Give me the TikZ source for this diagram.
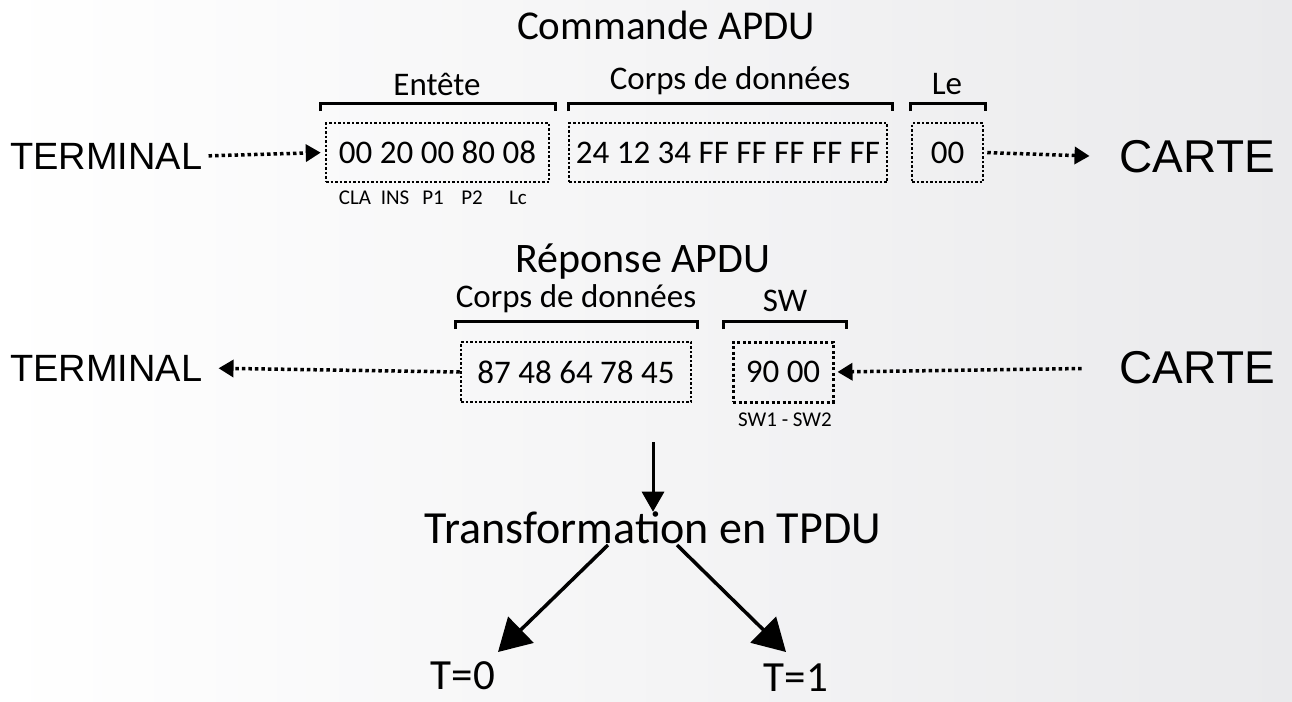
\documentclass[tikz,border=0pt]{standalone}
\usepackage{fontspec}
\setmainfont{Carlito}
\newfontfamily\arialfont{Liberation Sans}
\usetikzlibrary{arrows.meta}
\definecolor{bgright}{RGB}{234,234,236}
\begin{document}
\begin{tikzpicture}[x=1pt,y=-1pt,
  title/.style={font=\fontsize{41}{48}\selectfont, inner sep=0pt},
  lbl/.style={font=\fontsize{33}{38}\selectfont, inner sep=0pt},
  field/.style={font=\fontsize{21}{25}\selectfont, inner sep=0pt},
  party/.style={font=\arialfont\fontsize{38}{44}\selectfont, inner sep=0pt},
  bigparty/.style={font=\arialfont\fontsize{46}{52}\selectfont, inner sep=0pt},
  bytes/.style={draw, line width=2.5pt, dash pattern=on 2.5pt off 2pt,
    font=\fontsize{33}{38}\selectfont, minimum height=59pt, inner sep=0pt},
  brace/.style={line width=3pt},
  flow/.style={line width=3.5pt, dash pattern=on 3.5pt off 3pt,
    -{Triangle[length=15pt,width=17pt]}},
  down/.style={line width=3pt, -{Triangle[length=20pt,width=22pt]}},
  split/.style={line width=3.5pt, -{Triangle[length=32pt,width=36pt]}}]

% background
\shade[left color=white, right color=bgright] (0,0) rectangle (1292,701);

% ---------------- command ----------------
\node[title] (cmd) at (666,25) {Commande APDU};

\node[bytes, minimum width=223pt] (hdr) at (437.5,152.5) {00 20 00 80 08};
\node[bytes, minimum width=318pt] (body) at (728,152.5) {24 12 34 FF FF FF FF FF};
\node[bytes, minimum width=71pt] (le) at (947.5,152.5) {00};

\draw[brace] (320,111) -- (320,103) -- (555,103) -- (555,111);
\draw[brace] (568,111) -- (568,103) -- (892,103) -- (892,111);
\draw[brace] (910,111) -- (910,103) -- (985,103) -- (985,111);
\node[lbl] (lhdr) at (437,84) {Entête};
\node[lbl] (lbody) at (730,81) {Corps de données};
\node[lbl] (lle) at (947,84) {Le};

\node[field] (cla) at (355,198) {CLA};
\node[field] (ins) at (395,198) {INS};
\node[field] (p1) at (433,198) {P1};
\node[field] (p2) at (472,198) {P2};
\node[field] (lc) at (518,198) {Lc};

\node[party, anchor=west] (term1) at (10,156) {TERMINAL};
\node[bigparty, anchor=east] (carte1) at (1275,157) {CARTE};
\draw[flow, shorten <=6pt, shorten >=4pt] (term1.east) -- (hdr.west);
\draw[flow, shorten <=3pt, shorten >=30pt] (le.east) -- (carte1.west);

% ---------------- response ----------------
\node[title, font=\fontsize{42}{50}\selectfont] (rsp) at (643,262) {Réponse APDU};

\node[bytes, minimum width=230pt, minimum height=60pt] (data) at (576,372) {87 48 64 78 45};
\node[bytes, minimum width=100pt, minimum height=60pt, line width=3pt,
  dash pattern=on 3pt off 2.5pt] (sw) at (783,372) {90 00};

\draw[brace] (455,329) -- (455,321) -- (697,321) -- (697,329);
\draw[brace] (723,329) -- (723,321) -- (846,321) -- (846,329);
\node[lbl] (ldata) at (576,299) {Corps de données};
\node[lbl] (lsw) at (785,301) {SW};
\node[field] (swf) at (785,420) {SW1 - SW2};

\node[party, anchor=west] (term2) at (10,368) {TERMINAL};
\node[bigparty, anchor=east] (carte2) at (1275,368) {CARTE};
\draw[flow, shorten >=16pt] (data.west) -- (term2.east);
\draw[flow, shorten <=38pt, shorten >=3pt] (carte2.west) -- (sw.east);

% ---------------- transport ----------------
\coordinate (fork) at (653,442);
\node[title, font=\fontsize{46}{54}\selectfont] (tpdu) at (653,528) {Transformation en TPDU};
\draw[down] (fork) -- (tpdu.north);

\node[title, font=\fontsize{43}{50}\selectfont] (t0) at (463,676) {T=0};
\node[title, font=\fontsize{43}{50}\selectfont] (t1) at (796,678) {T=1};
\coordinate (l0) at (608,545);
\coordinate (l1) at (677,545);
\coordinate (a0) at (498,652);
\coordinate (a1) at (786,652);
\draw[split] (l0) -- (a0);
\draw[split] (l1) -- (a1);
\end{tikzpicture}
\end{document}
